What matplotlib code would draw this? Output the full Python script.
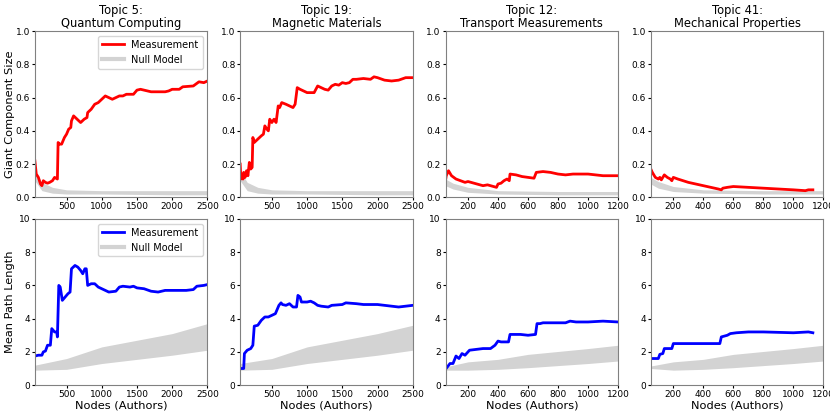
import matplotlib
matplotlib.use("Agg")
import matplotlib.pyplot as plt
import numpy as np

titles = ["Topic 5:\nQuantum Computing", "Topic 19:\nMagnetic Materials",
          "Topic 12:\nTransport Measurements", "Topic 41:\nMechanical Properties"]
x_max = [2500, 2500, 1200, 1200]

# giant component size, measurement
gc_x = [
    [50, 70, 100, 130, 150, 170, 200, 230, 260, 300, 330, 370, 380, 400, 430, 470, 500, 530, 560, 570,
     600, 650, 700, 750, 790, 800, 850, 900, 950, 1000, 1050, 1100, 1150, 1200, 1250, 1300, 1350, 1450,
     1500, 1550, 1650, 1700, 1900, 1950, 2000, 2100, 2150, 2300, 2380, 2450, 2500],
    [50, 60, 80, 90, 100, 120, 140, 160, 180, 200, 220, 230, 250, 300, 350, 380, 400, 430, 450, 470,
     500, 530, 560, 590, 610, 640, 700, 750, 800, 830, 860, 900, 950, 1000, 1100, 1150, 1200, 1250,
     1300, 1350, 1400, 1450, 1500, 1550, 1600, 1650, 1700, 1800, 1900, 1950, 2000, 2100, 2200, 2300,
     2400, 2500],
    [50, 55, 70, 90, 120, 150, 180, 200, 220, 260, 300, 330, 370, 390, 400, 420, 440, 460, 475, 480,
     520, 560, 600, 640, 655, 700, 750, 800, 850, 900, 1000, 1100, 1200],
    [50, 60, 80, 100, 110, 120, 140, 160, 180, 190, 200, 230, 300, 350, 400, 450, 500, 520, 530, 560,
     600, 700, 800, 900, 1000, 1080, 1100, 1130],
]
gc_y = [
    [0.22, 0.14, 0.12, 0.08, 0.07, 0.10, 0.09, 0.085, 0.09, 0.10, 0.12, 0.11, 0.33, 0.32, 0.32, 0.36,
     0.38, 0.41, 0.42, 0.46, 0.49, 0.47, 0.45, 0.47, 0.48, 0.51, 0.53, 0.56, 0.57, 0.59, 0.61, 0.60,
     0.59, 0.60, 0.61, 0.61, 0.62, 0.62, 0.645, 0.65, 0.64, 0.635, 0.635, 0.64, 0.65, 0.65, 0.665,
     0.67, 0.695, 0.69, 0.70],
    [0.20, 0.11, 0.13, 0.11, 0.15, 0.12, 0.16, 0.13, 0.21, 0.17, 0.18, 0.36, 0.33, 0.35, 0.37, 0.38,
     0.43, 0.41, 0.40, 0.47, 0.45, 0.47, 0.45, 0.55, 0.54, 0.57, 0.56, 0.55, 0.54, 0.56, 0.66, 0.65,
     0.64, 0.63, 0.63, 0.67, 0.66, 0.65, 0.645, 0.67, 0.68, 0.675, 0.69, 0.685, 0.69, 0.71, 0.71,
     0.715, 0.71, 0.725, 0.72, 0.705, 0.70, 0.705, 0.72, 0.72],
    [0.10, 0.13, 0.16, 0.13, 0.11, 0.10, 0.09, 0.095, 0.09, 0.08, 0.07, 0.075, 0.065, 0.06, 0.08,
     0.085, 0.10, 0.11, 0.10, 0.14, 0.135, 0.125, 0.12, 0.115, 0.15, 0.155, 0.15, 0.14, 0.135, 0.14,
     0.14, 0.13, 0.13],
    [0.17, 0.15, 0.12, 0.11, 0.12, 0.105, 0.135, 0.12, 0.11, 0.10, 0.12, 0.11, 0.09, 0.08, 0.07, 0.06,
     0.05, 0.045, 0.055, 0.06, 0.065, 0.06, 0.055, 0.05, 0.045, 0.04, 0.045, 0.045],
]

# giant component size, null model band
gc_null_x = [
    [50, 150, 300, 500, 1000, 2000, 2500],
    [50, 150, 300, 500, 1000, 2000, 2500],
    [50, 100, 200, 400, 800, 1200],
    [50, 100, 200, 400, 800, 1200],
]
gc_null_lo = [
    [0.10, 0.04, 0.025, 0.02, 0.02, 0.015, 0.015],
    [0.10, 0.04, 0.025, 0.02, 0.02, 0.015, 0.015],
    [0.07, 0.05, 0.03, 0.02, 0.015, 0.015],
    [0.08, 0.055, 0.035, 0.025, 0.02, 0.02],
]
gc_null_hi = [
    [0.16, 0.09, 0.06, 0.045, 0.04, 0.04, 0.04],
    [0.16, 0.09, 0.06, 0.045, 0.04, 0.04, 0.04],
    [0.11, 0.085, 0.06, 0.04, 0.035, 0.035],
    [0.12, 0.095, 0.065, 0.045, 0.04, 0.04],
]

# mean path length, measurement
pl_x = [
    [50, 100, 150, 170, 200, 230, 270, 290, 330, 360, 370, 390, 410, 440, 480, 520, 550, 570, 620, 660,
     700, 730, 760, 780, 800, 850, 900, 950, 1000, 1050, 1100, 1200, 1250, 1300, 1400, 1450, 1500,
     1600, 1700, 1800, 1900, 2000, 2100, 2200, 2300, 2350, 2450, 2500],
    [50, 100, 110, 150, 200, 230, 250, 300, 350, 400, 450, 500, 550, 600, 630, 650, 700, 750, 800, 850,
     870, 900, 920, 1000, 1050, 1100, 1150, 1200, 1300, 1350, 1500, 1550, 1700, 1800, 1900, 2000,
     2100, 2200, 2300, 2400, 2500],
    [50, 80, 100, 120, 140, 160, 180, 210, 300, 350, 380, 400, 420, 470, 480, 550, 600, 650, 660, 680,
     700, 850, 880, 920, 1000, 1100, 1200],
    [50, 100, 110, 130, 140, 190, 200, 510, 520, 560, 580, 620, 700, 800, 1000, 1100, 1130],
]
pl_y = [
    [1.75, 1.8, 1.8, 2.0, 2.05, 2.4, 2.4, 3.4, 3.2, 3.2, 2.9, 6.0, 5.9, 5.1, 5.3, 5.5, 5.6, 7.0, 7.2,
     7.1, 6.9, 6.7, 7.0, 7.0, 6.0, 6.1, 6.1, 5.9, 5.8, 5.7, 5.6, 5.65, 5.9, 5.95, 5.9, 5.95, 5.85,
     5.8, 5.65, 5.6, 5.7, 5.7, 5.7, 5.7, 5.75, 5.95, 6.0, 6.05],
    [1.0, 1.0, 1.9, 2.1, 2.2, 2.4, 3.55, 3.6, 3.9, 4.1, 4.1, 4.2, 4.3, 4.8, 4.95, 4.85, 4.8, 4.9, 4.7,
     4.7, 5.4, 5.3, 5.0, 5.0, 5.05, 4.95, 4.8, 4.75, 4.7, 4.8, 4.85, 4.95, 4.9, 4.85, 4.85, 4.85, 4.8,
     4.75, 4.7, 4.75, 4.8],
    [0.95, 1.3, 1.3, 1.75, 1.6, 1.9, 1.8, 2.1, 2.2, 2.2, 2.4, 2.65, 2.6, 2.6, 3.05, 3.05, 3.0, 3.05,
     3.7, 3.7, 3.75, 3.75, 3.85, 3.8, 3.8, 3.85, 3.8],
    [1.6, 1.6, 1.85, 1.9, 2.2, 2.2, 2.5, 2.5, 2.9, 3.0, 3.1, 3.15, 3.2, 3.2, 3.15, 3.2, 3.15],
]

# mean path length, null model band
pl_null_x = [
    [50, 500, 1000, 1500, 2000, 2500],
    [50, 500, 1000, 1500, 2000, 2500],
    [50, 200, 400, 600, 1000, 1200],
    [50, 200, 400, 600, 1000, 1200],
]
pl_null_lo = [
    [0.9, 0.95, 1.3, 1.55, 1.8, 2.1],
    [0.9, 0.95, 1.3, 1.55, 1.8, 2.1],
    [0.9, 0.9, 0.95, 1.05, 1.3, 1.45],
    [1.0, 0.9, 0.95, 1.05, 1.3, 1.45],
]
pl_null_hi = [
    [1.2, 1.6, 2.3, 2.7, 3.1, 3.7],
    [1.3, 1.6, 2.3, 2.7, 3.1, 3.6],
    [1.1, 1.4, 1.55, 1.85, 2.2, 2.4],
    [1.15, 1.4, 1.55, 1.85, 2.2, 2.4],
]

plt.rcParams['font.family'] = 'DejaVu Sans'
fig, axes = plt.subplots(2, 4, figsize=(8.3, 4.15), dpi=100)
fig.subplots_adjust(left=0.042, right=0.992, top=0.925, bottom=0.072, wspace=0.19, hspace=0.13)

null_color = '#d3d3d3'
for i in range(4):
    ax = axes[0, i]
    ax.fill_between(gc_null_x[i], gc_null_lo[i], gc_null_hi[i], color=null_color, lw=0)
    ax.plot(gc_x[i], gc_y[i], color='red', lw=2, label='Measurement')
    ax.set_xlim(50, x_max[i])
    ax.set_ylim(0, 1.0)
    ax.set_title(titles[i], fontsize=8.3, pad=3, linespacing=1.0)

    ax = axes[1, i]
    ax.fill_between(pl_null_x[i], pl_null_lo[i], pl_null_hi[i], color=null_color, lw=0)
    ax.plot(pl_x[i], pl_y[i], color='blue', lw=2, label='Measurement')
    ax.set_xlim(50, x_max[i])
    ax.set_ylim(0, 10)
    ax.set_xlabel('Nodes (Authors)', fontsize=8.2, labelpad=1)

for ax in axes.flat:
    ax.tick_params(labelsize=6.5, length=2.5, width=0.8, pad=1)
    for s in ax.spines.values():
        s.set_color('#808080')

for i in range(4):
    if x_max[i] == 2500:
        axes[0, i].set_xticks([500, 1000, 1500, 2000, 2500])
        axes[1, i].set_xticks([500, 1000, 1500, 2000, 2500])
    else:
        axes[0, i].set_xticks([200, 400, 600, 800, 1000, 1200])
        axes[1, i].set_xticks([200, 400, 600, 800, 1000, 1200])

axes[0, 0].set_ylabel('Giant Component Size', fontsize=8.2)
axes[1, 0].set_ylabel('Mean Path Length', fontsize=8.2)
axes[0, 0].yaxis.set_label_coords(-0.118, 0.5)
axes[1, 0].yaxis.set_label_coords(-0.118, 0.5)

for row in range(2):
    ax = axes[row, 0]
    ax.plot([], [], color=null_color, lw=3, label='Null Model')
    ax.legend(loc='upper right', fontsize=7, handlelength=2.2)

fig.savefig('out.png', dpi=100)
